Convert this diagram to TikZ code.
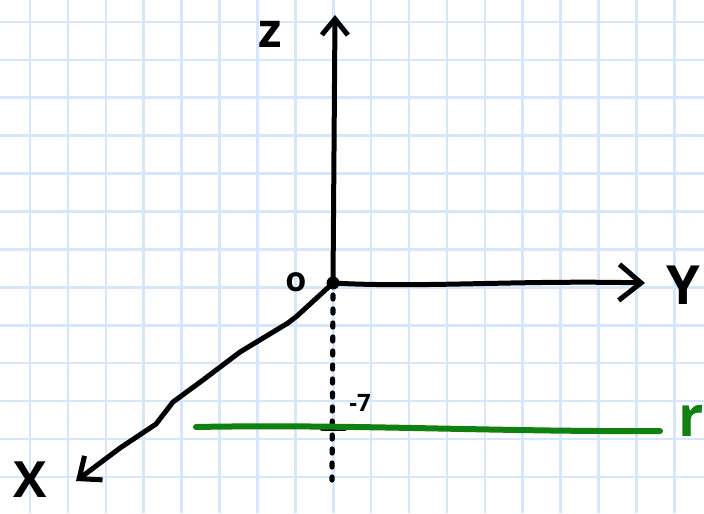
\documentclass[tikz,border=0pt]{standalone}
\usepackage{fontspec}
\setsansfont{Open Sans}
\usepackage{xcolor}
\usepackage{tikz}
\usetikzlibrary{arrows.meta,calc}

\definecolor{gridblue}{RGB}{214,231,251}
\definecolor{penGreen}{RGB}{16,128,16}

\begin{document}
\begin{tikzpicture}[
    x=0.5pt, y=-0.5pt,
    gridline/.style={draw=gridblue, line width=1.3pt},
    axis/.style={-{Straight Barb[length=9pt, width=15pt, line width=2.5pt]}, line width=2.5pt, line cap=round, line join=round},
    dotline/.style={line width=2.6pt, line cap=round, dash pattern=on 2pt off 5pt},
    label/.style={font=\sffamily, inner sep=0pt}
]
\useasboundingbox (0,0) rectangle (704,513);

% squared paper
\foreach \gx in {0,...,17}
    \draw[gridline] ({30+37.9*\gx},0) -- ({30+37.9*\gx},513);
\foreach \gy in {0,...,12}
    \draw[gridline] (0,{22+37.9*\gy}) -- (704,{22+37.9*\gy});

% origin and axis ends
\coordinate (O) at (333,283);
\coordinate (zTip) at (335,15);
\coordinate (yTip) at (645,283);
\coordinate (xTip) at (76,481);
\coordinate (zDown) at (332,480);

% axes
\draw[axis, -{Straight Barb[length=8pt, width=13pt, line width=2.5pt]}] (O) -- (334,150) -- (zTip);
\draw[axis, -{Straight Barb[length=11pt, width=18pt, line width=2.5pt]}] (O) .. controls (420,288) and (520,280) .. (yTip);
\draw[axis] (O) -- (297,316) -- (288,323) -- (240,352) -- (203,380) -- (173,402) -- (156,424) -- (120,448) -- (xTip);
\fill (O) circle (6.5);

% negative z part
\draw[dotline] ($(O)+(0,12)$) -- (zDown);
\coordinate (T) at (333,428);
\draw[line width=2.5pt, line cap=round] ($(T)+(-11,0)$) -- ($(T)+(12,0)$);

% line r
\coordinate (rStart) at (196,427);
\coordinate (rEnd) at (660,431);
\draw[penGreen, line width=3pt, line cap=round] (rStart) .. controls (350,424) and (500,432) .. (rEnd);

% labels
\node[label, font=\sffamily\bfseries\fontsize{24}{24}\selectfont] (zLab) at (270,34) {z};
\node[label, font=\sffamily\bfseries\fontsize{17}{17}\selectfont] (oLab) at (296,282) {o};
\node[label, font=\sffamily\bfseries\fontsize{27}{27}\selectfont] (yLab) at (683,285) {Y};
\node[label, font=\sffamily\bfseries\fontsize{25}{25}\selectfont] (xLab) at (30,480) {X};
\node[label, font=\sffamily\bfseries\fontsize{12}{12}\selectfont] (mLab) at (360,403) {-7};
\node[label, penGreen, font=\sffamily\bfseries\fontsize{28}{28}\selectfont] (rLab) at (691,421) {r};

\end{tikzpicture}
\end{document}
